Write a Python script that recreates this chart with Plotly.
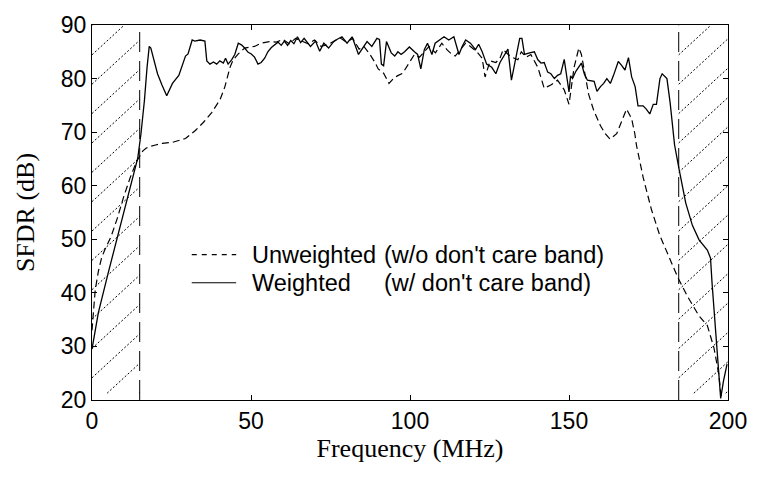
import plotly.graph_objects as go

# ---------------- data ----------------
freq_unweighted = [0, 0.5, 1, 2, 3, 4, 6, 8, 10, 12, 14, 15, 16, 17, 18, 20, 22.1, 25.3, 28, 29.4,
                   32.5, 35, 37.7, 40.3, 41.8, 43.4, 44.4, 46, 48, 51.1, 53.2, 55.8, 58, 60, 62, 64,
                   66, 68, 70, 72, 74, 76, 78, 80, 82, 84, 85.5, 87.4, 89, 90, 91.7, 93.4, 94.8, 96,
                   97.7, 99.8, 101.4, 103, 104.5, 106, 108, 110, 111.6, 113.2, 114.2, 116, 117.5, 119,
                   121, 122.7, 123.6, 125.2, 127, 128.3, 129.3, 130.9, 132, 133.9, 135, 136.5, 138,
                   140.2, 142.2, 144.3, 146.4, 148.5, 150, 151.6, 153.1, 153.9, 155.3, 156.2, 157.8,
                   159.9, 161.4, 162.9, 165, 166.6, 168.1, 169.7, 170.7, 171.2, 173.3, 175.9, 178.5,
                   181.6, 184.2, 187.3, 190.9, 193.5, 195.6, 197.1, 197.9]
sfdr_unweighted = [33, 37, 40.5, 44, 46.5, 48, 50.5, 54, 58, 61.5, 64.5, 65.5, 66.5, 67, 67.3, 67.6, 67.9,
                   68.1, 68.5, 68.8, 70.3, 71.8, 73.7, 76.1, 78.5, 82.1, 83.5, 84.6, 85.7, 86, 86.6,
                   86.9, 86.8, 87.3, 86.5, 87.5, 87, 86.5, 87.2, 86, 86.3, 87, 87.6, 86.8, 87.5, 85.5,
                   86, 84.5, 83, 81.8, 81, 79.1, 80, 80.5, 81, 83, 84.5, 84, 85, 86, 84.8, 86.6, 85.4,
                   84.5, 84.2, 85.5, 86.6, 86, 85, 83.8, 80.3, 83.3, 83, 83.8, 85.4, 84.5, 84, 83.5,
                   85, 84, 84.5, 82.1, 78.2, 78.8, 79.7, 77.9, 75.2, 82.1, 85.7, 84.5, 80.3, 77, 74,
                   71.2, 69.7, 68.7, 69.7, 71.9, 74.3, 72.5, 69.7, 67.6, 61.6, 55.6, 50.8, 46.5, 42.9,
                   39.3, 35.7, 33.9, 29.7, 24.8, 20.3]

freq_weighted = [0, 2, 5, 8, 11, 14.4, 15.4, 16.5, 17.3, 18, 18.5, 19.5, 20.6, 22, 23.5, 25.3, 27.3,
                 29.4, 30.2, 31.5, 32.3, 34, 35.5, 36.1, 37.1, 38.2, 39.2, 40.2, 41.3, 42, 42.8, 43.9,
                 44.9, 46, 47, 48, 49.1, 50.1, 51.1, 52.2, 53.2, 54.3, 55.3, 56.4, 57.4, 58.5, 59.5,
                 60.5, 61.5, 62.5, 63.5, 64.6, 65.6, 66.7, 68.7, 70.3, 71.6, 72.9, 74.4, 76, 77, 78.6,
                 80.2, 81.8, 83.8, 85.4, 86.5, 88, 89.6, 90.4, 91, 91.7, 92.6, 94.1, 95.2, 96.2, 97.2,
                 98.3, 99.8, 101.4, 102.4, 103.4, 104.5, 105.5, 106.9, 107.9, 109.2, 110.7, 112.2,
                 113.8, 115.4, 116.4, 117.5, 119, 120.6, 121.6, 122.7, 124.1, 125.7, 127, 128.3,
                 129.8, 130.8, 131.9, 133, 133.5, 134.5, 135.2, 136, 137.6, 139.1, 140.2, 141.2,
                 142.2, 143.3, 144.3, 145.4, 146.4, 147.4, 148.5, 149.5, 150, 150.5, 151.1, 152.2,
                 153.2, 153.9, 154.8, 155.8, 157.9, 158.8, 159.9, 160.9, 161.9, 163, 164, 165.5,
                 166.6, 167.6, 168.7, 169.7, 170.8, 171.7, 173.3, 174.3, 175.4, 176.5, 177.5, 178.6,
                 179.3, 180.8, 181.8, 182.6, 183.2, 184.7, 186.7, 188.8, 190.9, 193.5, 194.5, 195,
                 195.6, 196.3, 197.1, 197.7, 198.6, 199.7]
sfdr_weighted = [29.5, 36.3, 43.5, 50.5, 57.5, 65.2, 69.7, 76, 82, 86, 85.7, 83.5, 80.9, 78.8, 76.8,
                 79.1, 80.6, 84.2, 84.6, 87.2, 87, 87.2, 87, 83.3, 82.7, 83.1, 82.7, 83.3, 82.9, 83.8,
                 82.7, 83.5, 84.5, 86.6, 86.3, 85.7, 84.9, 84.6, 84, 82.7, 83, 83.8, 85, 85.8, 86.2,
                 86.8, 86.2, 87, 86.2, 87.1, 86.5, 87.8, 86.7, 87.5, 86, 87, 85.1, 86.6, 85.7, 86.9,
                 87.3, 87.8, 86.6, 87.8, 84.5, 86, 86.9, 86, 87.5, 87.3, 82.7, 82.4, 86.9, 84.8, 84.2,
                 85, 84.5, 85, 85.9, 85, 84.5, 81.8, 85.4, 86.6, 84.5, 86.6, 87.1, 87.8, 87.2, 87.8,
                 84.5, 86, 87.2, 86.6, 85.4, 86.4, 85, 82.7, 82.1, 80.9, 83, 84.5, 85.5, 79.7, 83.3,
                 84.2, 87.5, 87.5, 84.5, 84.8, 85, 83.5, 82.9, 83, 81.2, 80.9, 80, 80.6, 80.9, 83.6,
                 80, 77.5, 80.5, 80, 81.4, 82.3, 82.9, 80.9, 79.7, 79.5, 77.6, 78.5, 79.1, 80, 79.1,
                 80.6, 83.2, 82.4, 81.6, 83.9, 80.3, 78.5, 74.9, 74.9, 74.3, 73.4, 75.2, 75.2, 80,
                 80.9, 80, 75.5, 70.6, 67.6, 62.8, 56.8, 52.6, 49.9, 48, 46.5, 41.7, 36.9, 31.5, 24.8,
                 20.3, 23.6, 26.7]

band_edges = [15, 184.5]          # don't-care band boundaries (MHz)
x_ticks = [0, 50, 100, 150, 200]
y_ticks = [20, 30, 40, 50, 60, 70, 80, 90]
legend_labels = [("Unweighted", "(w/o don't care band)"),
                 ("Weighted", "(w/ don't care band)")]

# ---------------- layout constants ----------------
W, H = 759, 477
ML, MR, MT, MB = 92, 23, 13, 77
XR = (0, 200)
YR = (20, 90)
PW, PH = W - ML - MR, H - MT - MB


def px_to_data(px, py):
    fx = XR[0] + (px - ML) / PW * (XR[1] - XR[0])
    fy = YR[1] - (py - MT) / PH * (YR[1] - YR[0])
    return fx, fy


def data_to_px(fx, fy):
    px = ML + (fx - XR[0]) / (XR[1] - XR[0]) * PW
    py = MT + (YR[1] - fy) / (YR[1] - YR[0]) * PH
    return px, py


fig = go.Figure()

fig.add_trace(go.Scatter(x=freq_unweighted, y=sfdr_unweighted, mode="lines",
                         line=dict(color="black", width=1.2, dash="7px,4px"),
                         name="Unweighted (w/o don't care band)", showlegend=False))
fig.add_trace(go.Scatter(x=freq_weighted, y=sfdr_weighted, mode="lines",
                         line=dict(color="black", width=1.3),
                         name="Weighted (w/ don't care band)", showlegend=False))

shapes = []
# vertical band edges
for b in band_edges:
    shapes.append(dict(type="line", xref="x", yref="y", x0=b, x1=b, y0=YR[0], y1=YR[1],
                       line=dict(color="black", width=1, dash="20px,9px")))

# hatching inside the two don't-care bands
slope = 0.94        # pixel rise per pixel run
spacing = 30.3      # vertical spacing in px
y_first = 13.5      # first intercept at band's left edge (px)
clip_top, clip_bot = MT, 393
bands_px = [(data_to_px(XR[0], 0)[0], data_to_px(band_edges[0], 0)[0]),
            (data_to_px(band_edges[1], 0)[0], data_to_px(XR[1], 0)[0])]
for (xa, xb) in bands_px:
    for k in range(-3, 20):
        yi = y_first + spacing * k
        x0, x1 = xa, xb
        y0, y1 = yi, yi - slope * (xb - xa)
        if y0 > clip_bot:
            x0 = xa + (y0 - clip_bot) / slope
            y0 = clip_bot
        if y1 < clip_top:
            x1 = xa + (yi - clip_top) / slope
            y1 = clip_top
        if x0 >= x1 or y0 <= clip_top or y1 >= clip_bot:
            continue
        d0 = px_to_data(x0, y0)
        d1 = px_to_data(x1, y1)
        shapes.append(dict(type="line", xref="x", yref="y", x0=d0[0], y0=d0[1],
                           x1=d1[0], y1=d1[1],
                           line=dict(color="black", width=1, dash="2px,2px")))

# manual legend
annotations = []
leg_rows_py = [250, 279]
sample_x = (193, 238)
for i, ((lab1, lab2), py) in enumerate(zip(legend_labels, leg_rows_py)):
    pyp = (H - MB - py) / PH
    shapes.append(dict(type="line", xref="paper", yref="paper",
                       x0=(sample_x[0] - ML) / PW, x1=(sample_x[1] - ML) / PW, y0=pyp, y1=pyp,
                       line=dict(color="black", width=1.1, dash="5px,5px" if i == 0 else "solid")))
    annotations.append(dict(xref="paper", yref="paper", x=(252 - ML) / PW, y=pyp,
                            xanchor="left", yanchor="middle", text=lab1, showarrow=False,
                            font=dict(family="Liberation Sans, Arial", size=23.5, color="black")))
    annotations.append(dict(xref="paper", yref="paper", x=(386 - ML) / PW, y=pyp,
                            xanchor="left", yanchor="middle", text=lab2, showarrow=False,
                            font=dict(family="Liberation Sans, Arial", size=23.5, color="black")))

fig.update_layout(
    width=W, height=H, autosize=False,
    margin=dict(l=ML, r=MR, t=MT, b=MB, pad=0),
    paper_bgcolor="white", plot_bgcolor="white",
    showlegend=False,
    shapes=shapes, annotations=annotations,
    font=dict(family="Liberation Sans, Arial", size=23, color="black"),
)
fig.update_xaxes(range=list(XR), tickvals=x_ticks, ticktext=[str(v) for v in x_ticks],
                 showgrid=False, zeroline=False, showline=True, linecolor="black", linewidth=1,
                 mirror="ticks", ticks="inside", ticklen=5, tickcolor="black",
                 tickfont=dict(family="Liberation Sans, Arial", size=23, color="black"),
                 title=dict(text="Frequency (MHz)", standoff=4,
                            font=dict(family="Liberation Serif, Times New Roman", size=26,
                                      color="black")))
fig.update_yaxes(range=list(YR), tickvals=y_ticks, ticktext=[str(v) for v in y_ticks],
                 showgrid=False, zeroline=False, showline=True, linecolor="black", linewidth=1,
                 mirror="ticks", ticks="inside", ticklen=5, tickcolor="black",
                 tickfont=dict(family="Liberation Sans, Arial", size=23, color="black"),
                 title=dict(text="SFDR (dB)", standoff=18,
                            font=dict(family="Liberation Serif, Times New Roman", size=26,
                                      color="black")))

fig.write_html("out.html")
